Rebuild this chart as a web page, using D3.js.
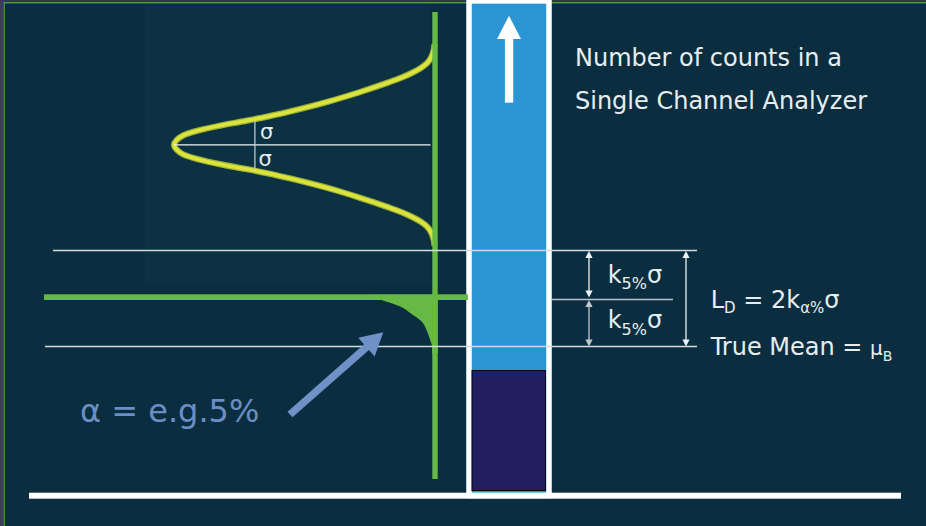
<!DOCTYPE html>
<html><head><meta charset="utf-8">
<script src="https://cdn.jsdelivr.net/npm/d3@7"></script>
<style>html,body{margin:0;padding:0;background:#0a2e40;overflow:hidden}</style>
</head><body><svg id="c" width="926" height="526"></svg>
<script>
// ---------------- data ----------------
const levelNames = ["True Mean", "Critical level", "Detection limit"];
const levelValues = [30, 40, 50];           // counts: μB, μB + kσ, μB + 2kσ
const barCategories = ["Single Channel Analyzer"];
const barTotalCounts = [102];
const barBackgroundCounts = [25];
const gaussCenter = 72;
const gaussSigma = 5.3;
const gaussCounts = [93, 92, 91, 90, 89, 88, 87, 86, 85, 84, 83, 82, 81, 80, 79, 78, 77, 76, 75, 74, 73, 72,
                     71, 70, 69, 68, 67, 66, 65, 64, 63, 62, 61, 60, 59, 58, 57, 56, 55, 54, 53, 52, 51];
const gaussDensity = [0.002, 0.004, 0.009, 0.017, 0.031, 0.055, 0.088, 0.129, 0.179, 0.232, 0.288, 0.347, 0.410, 0.479, 0.553, 0.634, 0.726, 0.825, 0.907, 0.964, 0.990, 1.000,
                      0.990, 0.964, 0.907, 0.825, 0.726, 0.634, 0.553, 0.479, 0.410, 0.347, 0.288, 0.232, 0.179, 0.129, 0.088, 0.055, 0.031, 0.017, 0.009, 0.004, 0.002];
const tailCounts  = [40.8, 40.3, 39.7, 38.4, 37.0, 35.2, 33.4, 31.4, 29.9, 28.5];
const tailDensity = [0.236, 0.232, 0.205, 0.135, 0.095, 0.051, 0.032, 0.019, 0.011, 0.011];

// ---------------- scales ----------------
const countScale = d3.scaleLinear().domain([0, 100]).range([490.5, 10.5]);
const densityScale = d3.scaleLinear().domain([0, 1]).range([435, 174]);
const barScale = d3.scaleBand().domain(barCategories).range([469, 549]).padding(0);

const svg = d3.select("#c");
const FONT = "DejaVu Sans, Verdana, sans-serif";
const TXT = "#e8eef0";

// background & frame
svg.append("rect").attr("width", 926).attr("height", 526).attr("fill", "#0a2e40");
svg.append("rect").attr("x", 145).attr("y", 0).attr("width", 285).attr("height", 283).attr("fill", "#0b3143");
svg.append("rect").attr("x", 0).attr("y", 0).attr("width", 926).attr("height", 2).attr("fill", "#2c3656");
svg.append("rect").attr("x", 0).attr("y", 0).attr("width", 3.7).attr("height", 526).attr("fill", "#3b3a6a");
svg.append("rect").attr("x", 3.7).attr("y", 2).attr("width", 922.3).attr("height", 1.4).attr("fill", "#4f9e3a");
svg.append("rect").attr("x", 3.7).attr("y", 2).attr("width", 1.2).attr("height", 524).attr("fill", "#4f9e3a");

// ---------------- bar ----------------
const bx = barScale(barCategories[0]), bw = barScale.bandwidth();
svg.append("rect")
  .attr("x", bx).attr("y", countScale(barTotalCounts[0]))
  .attr("width", bw).attr("height", 495.5 - countScale(barTotalCounts[0]))
  .attr("fill", "#2b95d3").attr("stroke", "#ffffff").attr("stroke-width", 5.5);
svg.append("rect")
  .attr("x", bx + 3).attr("y", countScale(barBackgroundCounts[0]))
  .attr("width", bw - 6.5).attr("height", countScale(0) - countScale(barBackgroundCounts[0]))
  .attr("fill", "#231f5f").attr("stroke", "#050510").attr("stroke-width", 1);
// up arrow inside the bar
const bc = bx + bw / 2;
svg.append("rect").attr("x", bc - 4.1).attr("y", 38).attr("width", 8.3).attr("height", 64.7).attr("fill", "#fff");
svg.append("path").attr("d", `M${bc},15.7 L${bc + 12},39 L${bc - 12},39 Z`).attr("fill", "#fff");

// ---------------- gaussian ----------------
const gPts = gaussCounts.map((c, i) => ({ c, d: gaussDensity[i] }));
const line = d3.line().x(d => densityScale(d.d)).y(d => countScale(d.c)).curve(d3.curveMonotoneY);
svg.append("path").attr("d", line(gPts)).attr("fill", "none").attr("stroke", "#9fb23a").attr("stroke-width", 6.2);
svg.append("path").attr("d", line(gPts)).attr("fill", "none").attr("stroke", "#dbe43c").attr("stroke-width", 3.8);

// sigma markers
const gy = countScale(gaussCenter);
svg.append("line").attr("x1", densityScale(1)).attr("x2", densityScale(0.017)).attr("y1", gy).attr("y2", gy)
  .attr("stroke", "#f0f4f4").attr("stroke-width", 1.2);
const sx = densityScale(0.69);
svg.append("line").attr("x1", sx).attr("x2", sx)
  .attr("y1", countScale(gaussCenter + gaussSigma)).attr("y2", countScale(gaussCenter - gaussSigma))
  .attr("stroke", "#c9d2d6").attr("stroke-width", 1.2);
svg.append("text").attr("x", sx + 5).attr("y", gy - 6).attr("font-family", FONT).attr("font-size", 21).attr("fill", TXT).text("σ");
svg.append("text").attr("x", sx + 3.5).attr("y", gy + 21).attr("font-family", FONT).attr("font-size", 21).attr("fill", TXT).text("σ");

// tail area (alpha)
const tPts = tailCounts.map((c, i) => ({ c, d: tailDensity[i] }));
const area = d3.area().y(d => countScale(d.c)).x0(densityScale(0) + 2.7).x1(d => densityScale(d.d)).curve(d3.curveMonotoneY);
svg.append("path").attr("d", area(tPts)).attr("fill", "#66b944");

// green vertical axis
svg.append("rect").attr("x", densityScale(0) - 2.7).attr("y", 12).attr("width", 5.4).attr("height", 467).attr("fill", "#66b944");

// ---------------- level lines ----------------
const lineColor = "#d3dadd";
svg.append("line").attr("x1", 53).attr("x2", 697).attr("y1", countScale(levelValues[2])).attr("y2", countScale(levelValues[2]))
  .attr("stroke", lineColor).attr("stroke-width", 1.4);
svg.append("line").attr("x1", 45).attr("x2", 697).attr("y1", countScale(levelValues[0])).attr("y2", countScale(levelValues[0]))
  .attr("stroke", lineColor).attr("stroke-width", 1.4);
svg.append("line").attr("x1", 552).attr("x2", 673).attr("y1", countScale(levelValues[1]) + 1).attr("y2", countScale(levelValues[1]) + 1)
  .attr("stroke", "#b8c1c5").attr("stroke-width", 1.4);
svg.append("rect").attr("x", 44).attr("y", countScale(levelValues[1]) - 4.2).attr("width", 424).attr("height", 5.7).attr("fill", "#66b944");

// double-headed arrows
function dArrow(x, y1, y2, color) {
  svg.append("line").attr("x1", x).attr("x2", x).attr("y1", y1 + 6).attr("y2", y2 - 6).attr("stroke", color).attr("stroke-width", 1.3);
  svg.append("path").attr("d", `M${x},${y1} L${x + 3.6},${y1 + 7} L${x - 3.6},${y1 + 7} Z`).attr("fill", color);
  svg.append("path").attr("d", `M${x},${y2} L${x + 3.6},${y2 - 7} L${x - 3.6},${y2 - 7} Z`).attr("fill", color);
}
dArrow(589, countScale(levelValues[2]) + 0.5, countScale(levelValues[1]) - 1, "#eef2f3");
dArrow(589, countScale(levelValues[1]) + 1.5, countScale(levelValues[0]), "#c0c8cc");
dArrow(686, countScale(levelValues[2]) + 0.5, countScale(levelValues[0]), "#eef2f3");

// ---------------- texts ----------------
function sub(x, y, parts) {
  const t = svg.append("text").attr("x", x).attr("y", y).attr("font-family", FONT).attr("fill", TXT);
  let cur = 0;
  parts.forEach(p => {
    t.append("tspan").attr("font-size", p[1]).attr("dy", p[2] - cur).text(p[0]);
    cur = p[2];
  });
  return t;
}
svg.append("text").attr("x", 575).attr("y", 65.7).attr("font-family", FONT).attr("font-size", 24).attr("fill", TXT).text("Number of counts in a");
svg.append("text").attr("x", 575).attr("y", 109).attr("font-family", FONT).attr("font-size", 24).attr("fill", TXT).text("Single Channel Analyzer");
sub(607.7, 282.7, [["k", 24, 0], ["5%", 16, 6.6], ["σ", 24, 0]]);
sub(607.7, 328.3, [["k", 24, 0], ["5%", 16, 6.6], ["σ", 24, 0]]);
sub(710.7, 308.3, [["L", 24, 0], ["D", 15, 5], [" = 2k", 24, 0], ["α%", 15, 5], ["σ", 24, 0]]);
sub(710.7, 355, [["True Mean = ", 24, 0], ["μ", 20, 0], ["B", 14, 6]]);

// alpha label and arrow
const aCol = "#6f91c8";
svg.append("text").attr("x", 80).attr("y", 421.7).attr("font-family", FONT).attr("font-size", 32).attr("fill", "#6b8ec6").text("α = e.g.5%");
const tail = [290, 414.5], tip = [383.3, 332.3];
const ux = (tip[0] - tail[0]), uy = (tip[1] - tail[1]), L = Math.hypot(ux, uy);
const ex = ux / L, ey = uy / L, nx = -ey, ny = ex;
const hb = [tip[0] - ex * 22.5, tip[1] - ey * 22.5];
svg.append("line").attr("x1", tail[0]).attr("y1", tail[1]).attr("x2", hb[0] + ex * 2).attr("y2", hb[1] + ey * 2)
  .attr("stroke", aCol).attr("stroke-width", 7.5);
svg.append("path").attr("d", `M${tip[0]},${tip[1]} L${hb[0] + nx * 12.4},${hb[1] + ny * 12.4} L${hb[0] - nx * 12.4},${hb[1] - ny * 12.4} Z`).attr("fill", aCol);

// baseline
svg.append("rect").attr("x", 29).attr("y", 492.7).attr("width", 872).attr("height", 6).attr("fill", "#ffffff");
</script></body></html>
